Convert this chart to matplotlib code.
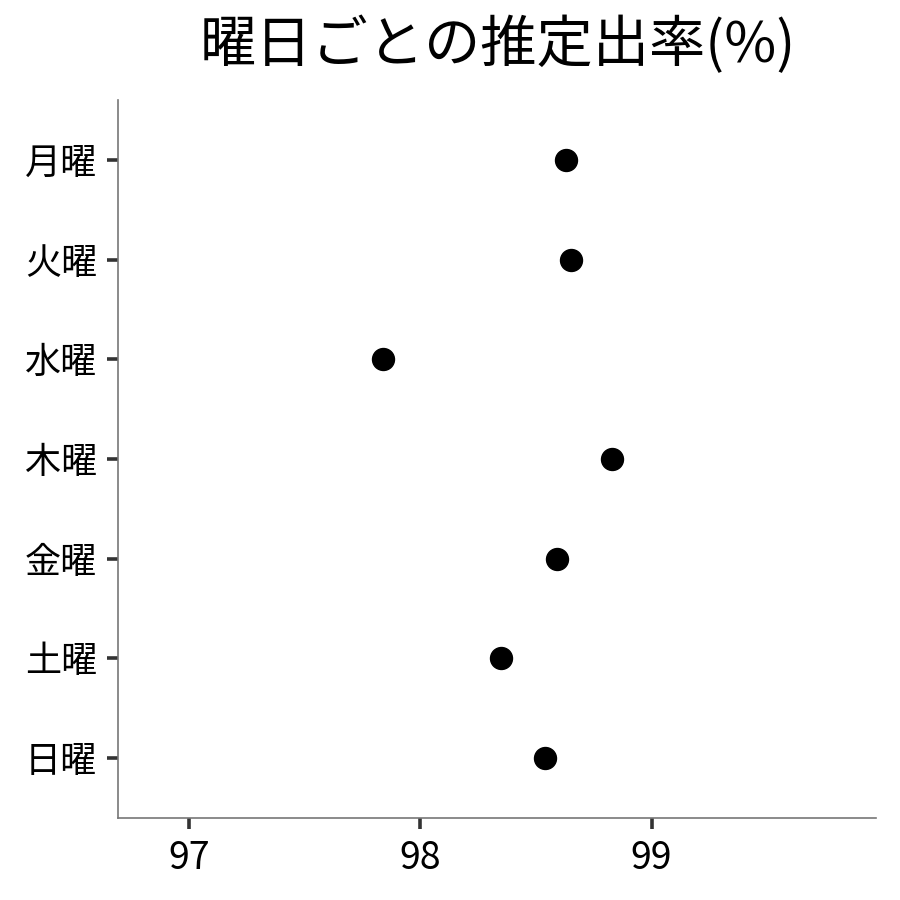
import matplotlib
matplotlib.use("Agg")
import matplotlib.pyplot as plt

plt.rcParams['font.family'] = ['Noto Sans CJK JP', 'DejaVu Sans']

# data
days = ['月曜', '火曜', '水曜', '木曜', '金曜', '土曜', '日曜']
rates = [98.63, 98.65, 97.84, 98.83, 98.59, 98.35, 98.54]
xticks = [97, 98, 99]

fig = plt.figure(figsize=(9, 9), dpi=100)
ax = fig.add_axes([0.1311, 0.0911, 0.8422, 0.7978])

ypos = list(range(len(days), 0, -1))
ax.scatter(rates, ypos, s=250, color='black', zorder=3)

ax.set_xlim(96.693, 99.97)
ax.set_ylim(0.4, 7.6)
ax.set_yticks(ypos)
ax.set_yticklabels(days)
ax.set_xticks(xticks)
ax.set_xticklabels([str(t) for t in xticks])

for side in ['top', 'right']:
    ax.spines[side].set_visible(False)
for side in ['left', 'bottom']:
    ax.spines[side].set_color('#777777')
    ax.spines[side].set_linewidth(1.2)

ax.tick_params(axis='both', length=8, width=2.6, color='#333333',
               labelsize=26, labelcolor='black', pad=7)
ax.tick_params(axis='x', labelsize=27, pad=7)

fig.suptitle('曜日ごとの推定出率(%)', fontsize=40.5, y=0.982, x=0.553)

fig.savefig('out.png', dpi=100)
